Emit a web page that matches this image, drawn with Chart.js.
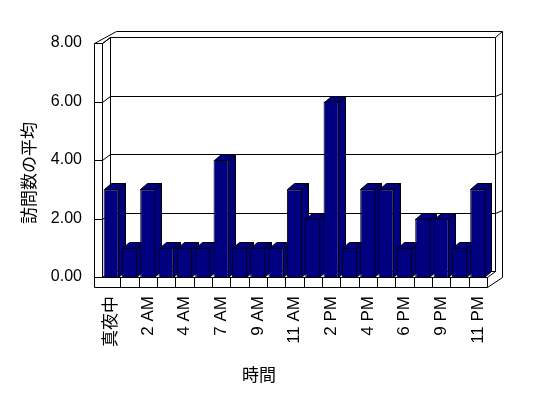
<!DOCTYPE html>
<html>
<head>
<meta charset="utf-8">
<script src="https://cdn.jsdelivr.net/npm/chart.js@4.4.1/dist/chart.umd.min.js"></script>
<style>
  html, body { margin: 0; padding: 0; background: #fff; }
  #wrap { width: 548px; height: 398px; }
</style>
</head>
<body>
<div id="wrap"><canvas id="chart"></canvas></div>
<script>
// categories (hours with data), every other one is labelled
const hours = ['真夜中', '1 AM', '2 AM', '3 AM', '4 AM', '5 AM', '7 AM', '8 AM', '9 AM', '10 AM', '11 AM',
               '正午', '2 PM', '3 PM', '4 PM', '5 PM', '6 PM', '7 PM', '9 PM', '10 PM', '11 PM'];
const visits = [3, 1, 3, 1, 1, 1, 4, 1, 1, 1, 3, 2, 6, 1, 3, 3, 1, 2, 2, 1, 3];
const yTicks = [0, 2, 4, 6, 8];
const yTitle = '訪問数の平均';
const xTitle = '時間';

const FONT = '"Liberation Sans", "Noto Sans CJK JP", sans-serif';
const NAVY = '#000080';
const DX = 8, DY = 6;     // depth of the back wall
const TX = 7, TY = 6;     // thickness of the walls
const BX = 7, BY = 6;     // depth of each bar

function line(ctx, pts) {
    ctx.beginPath();
    ctx.moveTo(pts[0][0], pts[0][1]);
    for (let i = 1; i < pts.length; i++) ctx.lineTo(pts[i][0], pts[i][1]);
    ctx.stroke();
}

function poly(ctx, pts, fill) {
    ctx.beginPath();
    ctx.moveTo(pts[0][0], pts[0][1]);
    for (let i = 1; i < pts.length; i++) ctx.lineTo(pts[i][0], pts[i][1]);
    ctx.closePath();
    ctx.fillStyle = fill;
    ctx.fill();
    ctx.stroke();
}

const frame3d = {
    id: 'frame3d',
    beforeDatasetsDraw(chart) {
        const { ctx, chartArea: a, scales: { x, y } } = chart;
        const L = Math.round(a.left) + 0.5, R = Math.round(a.right) + 0.5;
        const T = Math.round(a.top) + 0.5, B = Math.round(a.bottom) + 0.5;
        const W = L - 8;           // outer face of the left wall
        const FB = B + 10;         // bottom of the floor slab
        ctx.save();
        ctx.strokeStyle = '#000';
        ctx.lineWidth = 1;

        // back wall
        ctx.fillStyle = '#fff';
        ctx.fillRect(L + DX, T - DY, R - L, B - T);
        line(ctx, [[L + DX, B - DY], [L + DX, T - DY], [R + DX, T - DY], [R + DX, B - DY], [L + DX, B - DY]]);
        // wall thickness (outer edges)
        line(ctx, [[W, T], [L + DX + TX - 1, T - DY - TY], [R + DX + TX, T - DY - TY], [R + DX + TX, B - DY + 6]]);
        line(ctx, [[R + DX, T - DY], [R + DX + TX, T - DY - TY]]);
        // left wall
        line(ctx, [[W, FB], [W, T], [L, T], [L, B]]);
        line(ctx, [[L, T], [L + DX, T - DY]]);

        // gridlines wrapped round the walls
        yTicks.forEach(v => {
            const py = Math.round(y.getPixelForValue(v)) + 0.5;
            line(ctx, [[W, py], [L, py], [L + DX, py - DY], [R + DX, py - DY]]);
            if (v > 0 && v < 8) line(ctx, [[R + DX, py - DY], [R + DX + TX, py - DY - TY + 3]]);
        });

        // floor
        line(ctx, [[L, B], [R, B], [R, FB], [W, FB]]);
        line(ctx, [[R, B], [R + DX, B - DY]]);
        line(ctx, [[R, FB], [R + DX + TX, B - DY + 6]]);
        for (let i = 1; i < hours.length; i++) {
            const px = Math.round((x.getPixelForValue(i - 1) + x.getPixelForValue(i)) / 2) + 0.5;
            line(ctx, [[px, B], [px, FB]]);
        }

        // side and top faces of the bars, front faces are drawn by Chart.js
        const meta = chart.getDatasetMeta(0);
        meta.data.forEach(el => {
            const p = el.getProps(['x', 'y', 'base', 'width'], true);
            const x1 = Math.round(p.x - p.width / 2) + 0.5;
            const x2 = Math.round(p.x + p.width / 2) - 0.5;
            const top = Math.round(p.y) + 0.5, base = Math.round(p.base) + 0.5;
            poly(ctx, [[x2, top], [x2 + BX, top - BY], [x2 + BX, base - BY], [x2, base]], NAVY);
            poly(ctx, [[x1, top], [x1 + BX, top - BY], [x2 + BX, top - BY], [x2, top]], NAVY);
        });
        ctx.restore();
    },
    afterDraw(chart) {
        const { ctx } = chart;
        ctx.save();
        ctx.fillStyle = '#000';
        ctx.font = '17px ' + FONT;
        ctx.textAlign = 'center';
        ctx.textBaseline = 'middle';
        ctx.fillText(xTitle, 259, 376);
        ctx.translate(30, 173);
        ctx.rotate(-Math.PI / 2);
        ctx.fillText(yTitle, 0, 0);
        ctx.restore();
    }
};

const ctx = document.getElementById('chart').getContext('2d');

const chart = new Chart(ctx, {
    type: 'bar',
    data: {
        labels: hours,
        datasets: [
            {
                label: yTitle,
                data: visits,
                backgroundColor: NAVY,
                borderColor: '#000',
                borderWidth: 1,
                barPercentage: 0.83,
                categoryPercentage: 1
            }
        ]
    },
    options: {
        responsive: true,
        maintainAspectRatio: false,
        animation: false,
        layout: { padding: { top: 43, right: 61, left: 0, bottom: 0 } },
        plugins: {
            legend: { display: false },
            tooltip: { enabled: false }
        },
        scales: {
            x: {
                afterFit: s => { s.height = 121; },
                grid: { display: false, drawTicks: false },
                border: { display: false },
                ticks: {
                    autoSkip: false,
                    minRotation: 90,
                    maxRotation: 90,
                    padding: 19,
                    color: '#000',
                    font: { family: FONT, size: 17 },
                    callback: (v, i) => (i % 2 === 0 ? hours[i] : '')
                }
            },
            y: {
                min: 0,
                max: 8,
                afterFit: s => { s.width = 102; },
                afterBuildTicks: s => { s.ticks = yTicks.map(v => ({ value: v })); },
                grid: { display: false, drawTicks: false },
                border: { display: false },
                ticks: {
                    padding: 20,
                    color: '#000',
                    font: { family: FONT, size: 16 },
                    callback: v => Number(v).toFixed(2)
                }
            }
        }
    },
    plugins: [frame3d]
});
</script>
</body>
</html>
